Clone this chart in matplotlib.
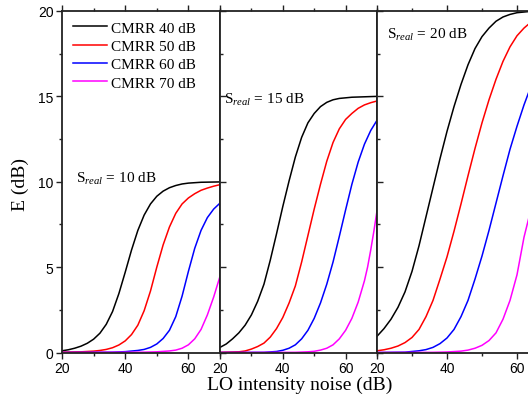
import matplotlib
matplotlib.use("Agg")
import matplotlib.pyplot as plt
from matplotlib.ticker import MultipleLocator

plt.rcParams['mathtext.fontset'] = 'custom'
plt.rcParams['mathtext.rm'] = 'Liberation Serif'
plt.rcParams['mathtext.it'] = 'Liberation Serif:italic'

serif = 'Liberation Serif'
sans = 'Liberation Sans'

cmrr_labels = ['CMRR 40 dB', 'CMRR 50 dB', 'CMRR 60 dB', 'CMRR 70 dB']
colors = ['black', '#ff0000', '#0000ff', '#ff00ff']
s_real = [10, 15, 20]

# ---- panel 1: S_real = 10 dB ----
p1_black_x = [20, 22, 24, 26, 28, 30, 32, 34, 36, 38, 40, 42, 44, 46, 48, 50, 52, 54, 56, 58, 60, 64, 70]
p1_black_y = [0.1, 0.16, 0.25, 0.37, 0.54, 0.78, 1.13, 1.65, 2.4, 3.45, 4.7, 6.0, 7.15, 8.05, 8.7, 9.15, 9.45, 9.65, 9.78, 9.87, 9.92, 9.97, 9.99]
p1_red_x = [20, 26, 30, 32, 34, 36, 38, 40, 42, 44, 46, 48, 50, 52, 54, 56, 58, 60, 62, 64, 66, 68, 70]
p1_red_y = [0.02, 0.04, 0.08, 0.12, 0.18, 0.28, 0.44, 0.68, 1.05, 1.6, 2.45, 3.6, 5.0, 6.3, 7.35, 8.15, 8.7, 9.05, 9.3, 9.5, 9.63, 9.74, 9.83]
p1_blue_x = [20, 36, 40, 44, 46, 48, 50, 52, 54, 56, 58, 60, 62, 64, 66, 68, 70]
p1_blue_y = [0, 0.02, 0.05, 0.12, 0.18, 0.3, 0.5, 0.82, 1.3, 2.1, 3.3, 4.75, 6.1, 7.15, 7.9, 8.4, 8.75]
p1_mag_x = [20, 46, 50, 54, 56, 58, 60, 62, 64, 66, 68, 70]
p1_mag_y = [0, 0.02, 0.04, 0.09, 0.14, 0.25, 0.45, 0.8, 1.35, 2.2, 3.25, 4.46]

# ---- panel 2: S_real = 15 dB ----
p2_black_x = [20, 22, 24, 26, 28, 30, 32, 34, 36, 38, 40, 42, 44, 46, 48, 50, 52, 54, 56, 58, 62, 70]
p2_black_y = [0.3, 0.5, 0.8, 1.15, 1.6, 2.2, 3.0, 4.0, 5.4, 6.95, 8.55, 10.05, 11.45, 12.6, 13.45, 14.0, 14.4, 14.65, 14.8, 14.88, 14.95, 15.0]
p2_red_x = [20, 26, 28, 30, 32, 34, 36, 38, 40, 42, 44, 46, 48, 50, 52, 54, 56, 58, 60, 62, 64, 66, 68, 70]
p2_red_y = [0.01, 0.04, 0.09, 0.2, 0.35, 0.55, 0.9, 1.4, 2.05, 2.9, 3.9, 5.3, 6.85, 8.4, 9.85, 11.2, 12.3, 13.1, 13.65, 14.0, 14.3, 14.5, 14.63, 14.73]
p2_blue_x = [20, 34, 38, 40, 42, 44, 46, 48, 50, 52, 54, 56, 58, 60, 62, 64, 66, 68, 70]
p2_blue_y = [0, 0.01, 0.06, 0.13, 0.25, 0.45, 0.8, 1.3, 2.0, 2.9, 4.0, 5.3, 6.8, 8.35, 9.85, 11.15, 12.2, 13.0, 13.6]
p2_mag_x = [20, 44, 48, 50, 52, 54, 56, 58, 60, 62, 64, 66, 67, 68, 69, 70]
p2_mag_y = [0, 0.01, 0.04, 0.07, 0.14, 0.25, 0.45, 0.8, 1.3, 2.0, 2.95, 4.2, 5.0, 6.0, 7.1, 8.3]

# ---- panel 3: S_real = 20 dB ----
p3_black_x = [20, 22, 24, 26, 28, 30, 32, 34, 36, 38, 40, 42, 44, 46, 48, 50, 52, 54, 56, 58, 60, 63, 70]
p3_black_y = [0.95, 1.4, 1.95, 2.65, 3.55, 4.75, 6.25, 7.95, 9.65, 11.35, 12.95, 14.4, 15.7, 16.85, 17.8, 18.5, 19.0, 19.4, 19.65, 19.8, 19.9, 19.96, 20.0]
p3_red_x = [20, 22, 24, 26, 28, 30, 32, 34, 36, 38, 40, 42, 44, 46, 48, 50, 52, 54, 56, 58, 60, 62, 64]
p3_red_y = [0.1, 0.16, 0.25, 0.38, 0.58, 0.88, 1.35, 2.1, 3.05, 4.3, 5.6, 7.1, 8.7, 10.35, 11.95, 13.45, 14.8, 16.0, 17.05, 17.9, 18.55, 19.0, 19.35]
p3_blue_x = [20, 28, 32, 34, 36, 38, 40, 42, 44, 46, 48, 50, 52, 54, 56, 58, 60, 62, 64]
p3_blue_y = [0, 0.02, 0.1, 0.17, 0.3, 0.52, 0.85, 1.35, 2.1, 3.05, 4.3, 5.65, 7.15, 8.75, 10.35, 11.9, 13.25, 14.5, 15.6]
p3_mag_x = [20, 36, 40, 44, 46, 48, 50, 52, 54, 56, 58, 60, 62, 64]
p3_mag_y = [0, 0.01, 0.03, 0.08, 0.14, 0.25, 0.42, 0.7, 1.15, 1.95, 3.05, 4.55, 6.75, 8.4]

panels = [
    [(p1_black_x, p1_black_y), (p1_red_x, p1_red_y), (p1_blue_x, p1_blue_y), (p1_mag_x, p1_mag_y)],
    [(p2_black_x, p2_black_y), (p2_red_x, p2_red_y), (p2_blue_x, p2_blue_y), (p2_mag_x, p2_mag_y)],
    [(p3_black_x, p3_black_y), (p3_red_x, p3_red_y), (p3_blue_x, p3_blue_y), (p3_mag_x, p3_mag_y)],
]

W, H = 528, 402
fig = plt.figure(figsize=(W / 100, H / 100), dpi=100)

bottom = (H - 353.5) / H
height = (353.5 - 12) / H
rects = [
    (62 / W, bottom, 158 / W, height),
    (220 / W, bottom, 157 / W, height),
    (377 / W, bottom, 175 / W, height),
]
text_pos = [(24.4, 10.0), (21.4, 14.6), (22.8, 18.45)]

axes = []
for i, rect in enumerate(rects):
    ax = fig.add_axes(rect)
    for (xs, ys), c, lab in zip(panels[i], colors, cmrr_labels):
        ax.plot(xs, ys, color=c, lw=1.1, label=lab, clip_on=True,
                solid_joinstyle='round')
    ax.set_xlim(20, 70)
    ax.set_ylim(0, 20)
    ax.xaxis.set_major_locator(MultipleLocator(20))
    ax.xaxis.set_minor_locator(MultipleLocator(10))
    ax.yaxis.set_major_locator(MultipleLocator(5))
    ax.yaxis.set_minor_locator(MultipleLocator(2.5))
    for sp in ax.spines.values():
        sp.set_linewidth(1.3)
        sp.set_color('#222222')
    ax.tick_params(axis='x', which='both', direction='out', top=True, bottom=True,
                   labelsize=10, pad=2, width=1.0, color='#222222')
    ax.tick_params(axis='x', which='major', length=4)
    ax.tick_params(axis='x', which='minor', length=2.5)
    for lbl in ax.get_xticklabels():
        lbl.set_fontfamily(sans)
    if i == 0:
        ax.tick_params(axis='y', which='both', direction='out', left=True, right=False,
                       labelsize=10, pad=2, width=1.0, color='#222222')
        ax.tick_params(axis='y', which='major', length=4)
        ax.tick_params(axis='y', which='minor', length=2.5)
        for lbl in ax.get_yticklabels():
            lbl.set_fontfamily(sans)
    else:
        ax.tick_params(axis='y', which='both', direction='in', left=True, right=False,
                       labelleft=False, width=1.0, color='#222222')
        ax.tick_params(axis='y', which='major', length=4)
        ax.tick_params(axis='y', which='minor', length=2.5)
    tx, ty = text_pos[i]
    ax.text(tx, ty, r'S$_{real}$ = %d dB' % s_real[i], fontsize=11, fontfamily=serif,
            ha='left', va='baseline')
    axes.append(ax)

axes[0].legend(loc='upper left', bbox_to_anchor=(0.04, 0.984), frameon=False,
               prop={'family': serif, 'size': 11}, handlelength=2.2,
               handletextpad=0.3, labelspacing=0.3, borderaxespad=0, borderpad=0.3)

fig.text(20 / W, (H - 185) / H, 'E (dB)', rotation=90, ha='center', va='center',
         fontsize=14, fontfamily=serif)
fig.text(300 / W, (H - 385) / H, 'LO intensity noise (dB)', ha='center', va='center',
         fontsize=14, fontfamily=serif)

fig.savefig('out.png', dpi=100)
